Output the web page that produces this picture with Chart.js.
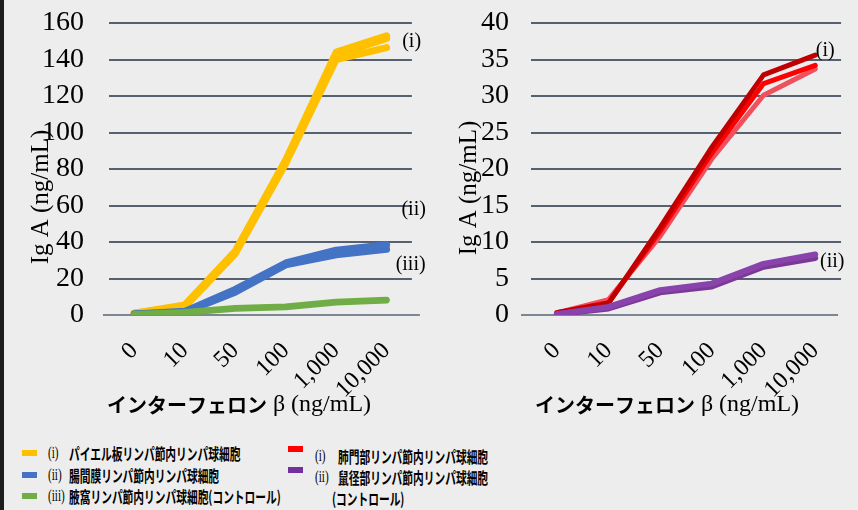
<!DOCTYPE html>
<html>
<head>
<meta charset="utf-8">
<script src="https://cdn.jsdelivr.net/npm/chart.js@4.4.1/dist/chart.umd.min.js"></script>
<style>
  html, body { margin: 0; padding: 0; }
  body { width: 858px; height: 510px; background: #ededed; position: relative; overflow: hidden; }
  #edge { position: absolute; left: 0; top: 0; width: 4px; height: 510px; background: #1c1c1c; }
  .box { position: absolute; top: 0; width: 430px; height: 420px; }
  #leftBox { left: 0; }
  #rightBox { left: 428px; }
  .sw { position: absolute; width: 15px; height: 6px; }
  .tag { position: absolute; font: 16px "Liberation Serif", serif; color: #000; white-space: nowrap;
         line-height: 20px; transform-origin: 0 50%; transform: scaleX(0.7); }
  .jp { position: absolute; font: bold 16px "Noto Sans CJK JP", sans-serif; color: #000; white-space: nowrap;
        line-height: 20px; transform-origin: 0 50%; transform: scaleX(0.67); }
</style>
</head>
<body>
<div id="edge"></div>
<div class="box" id="leftBox"><canvas id="leftChart" width="430" height="420"></canvas></div>
<div class="box" id="rightBox"><canvas id="rightChart" width="430" height="420"></canvas></div>
<div id="legend"></div>
<script>
// categories
const doses = ['0', '10', '50', '100', '1,000', '10,000'];

// left chart: Peyer's patch (i), mesenteric (ii), axillary (iii)
const peyerA = [1, 5.5, 35, 85, 144, 153];
const peyerB = [1, 5, 34.5, 84, 142.5, 151.5];
const peyerC = [0.5, 4.5, 33.5, 83, 140, 146.5];
const mesA = [0.5, 2, 14, 28.5, 35.5, 38.5];
const mesB = [0.5, 1.5, 12.5, 27.5, 33, 36];
const axA = [0.5, 1.6, 3.8, 4.6, 7.2, 8.4];
const axB = [0.3, 1.2, 3.4, 4.2, 6.8, 8];

// right chart: hilar (i), inguinal (ii)
const hilarA = [0.3, 1.6, 12, 23, 32.9, 35.6];
const hilarB = [0.3, 1.7, 11.5, 22.2, 31.7, 34.2];
const hilarC = [0.3, 2.1, 10.8, 21.4, 30.1, 33.7];
const ingA = [0.1, 1.1, 3.4, 4.3, 7, 8.3];
const ingB = [0.1, 0.9, 3.1, 3.9, 6.6, 7.8];

// tick settings
const leftMax = 160, leftStep = 20;
const rightMax = 40, rightStep = 5;

// legend texts
const leftTags = ['(i)', '(ii)', '(iii)'];
const leftNames = ['パイエル板リンパ節内リンパ球細胞', '腸間膜リンパ節内リンパ球細胞', '腋窩リンパ節内リンパ球細胞(コントロール)'];
const rightTags = ['(i)', '(ii)'];
const rightNames = ['肺門部リンパ節内リンパ球細胞', '鼠径部リンパ節内リンパ球細胞'];
const rightNote = '(コントロール)';

const SERIF = '"Liberation Serif", "Times New Roman", serif';
const JP = '"Noto Sans CJK JP", sans-serif';

const yellow = '#ffc000', blue = '#4472c4', green = '#70ad47';
const darkRed = '#c00000', red = '#ff0000', pink = '#f0505e';
const purple = '#7b3996', purple2 = '#8a42ac';

function line(data, color, width) {
  return { data: data, borderColor: color, borderWidth: width, pointRadius: 0, fill: false };
}

const overlay = {
  id: 'overlay',
  beforeDatasetsDraw(chart, args, o) {
    const { ctx, chartArea, scales: { y } } = chart;
    const py = y.getPixelForValue(0);
    ctx.save();
    ctx.strokeStyle = '#7d8792';
    ctx.lineWidth = 2;
    ctx.beginPath();
    ctx.moveTo(chartArea.left - o.zeroLeft, py);
    ctx.lineTo(chartArea.right + o.zeroRight, py);
    ctx.stroke();
    ctx.restore();
  },
  afterDraw(chart, args, o) {
    const { ctx, scales: { x, y } } = chart;
    ctx.save();
    ctx.fillStyle = '#000';
    // y title
    ctx.font = '25px ' + SERIF;
    ctx.textAlign = 'center';
    ctx.textBaseline = 'middle';
    ctx.translate(41, o.yTitleY);
    ctx.rotate(-Math.PI / 2);
    ctx.fillText('Ig A (ng/mL)', 0, 0);
    ctx.setTransform(1, 0, 0, 1, 0, 0);
    // x title (mixed fonts)
    const jp = 'インターフェロン', lat = ' β (ng/mL)';
    ctx.font = 'bold 20px ' + JP;
    const w1 = ctx.measureText(jp).width;
    ctx.font = '24px ' + SERIF;
    const w2 = ctx.measureText(lat).width;
    let sx = 239 - (w1 + w2) / 2;
    ctx.textAlign = 'left';
    ctx.font = 'bold 20px ' + JP;
    ctx.fillText(jp, sx, 405);
    ctx.font = '24px ' + SERIF;
    ctx.fillText(lat, sx + w1, 405);
    // series tags
    ctx.font = '20px ' + SERIF;
    ctx.textAlign = 'center';
    o.tags.forEach(t => {
      ctx.fillText(t.text, x.getPixelForValue(5) + t.dx, y.getPixelForValue(t.v));
    });
    ctx.restore();
  }
};

function makeChart(id, datasets, yMax, yStep, cfg) {
  return new Chart(document.getElementById(id), {
    type: 'line',
    data: { labels: doses, datasets: datasets },
    options: {
      responsive: false,
      animation: false,
      layout: { padding: { top: 23, right: cfg.padRight, left: 0, bottom: 0 } },
      plugins: { legend: { display: false }, tooltip: { enabled: false }, overlay: cfg },
      elements: { line: { tension: 0, borderCapStyle: 'round', borderJoinStyle: 'round' } },
      scales: {
        x: {
          offset: true,
          grid: { display: false, drawTicks: false },
          border: { display: false },
          ticks: { font: { family: SERIF, size: 24 }, color: '#000', minRotation: 45, maxRotation: 45, padding: 22, autoSkip: false },
          afterFit(s) { s.height = 105; }
        },
        y: {
          min: 0, max: yMax,
          grid: { color: c => c.tick.value === 0 ? 'rgba(0,0,0,0)' : '#56606e', lineWidth: 2, drawTicks: false },
          border: { display: false },
          ticks: { stepSize: yStep, autoSkip: false, font: { family: SERIF, size: 28 }, color: '#000', padding: cfg.tickPad },
          afterFit(s) { s.width = cfg.plotLeft; s.paddingTop = 0; s.paddingBottom = 0; }
        }
      }
    },
    plugins: [overlay]
  });
}

makeChart('leftChart', [
  line(axA, green, 6), line(axB, green, 6),
  line(mesA, blue, 7), line(mesB, blue, 7),
  line(peyerA, yellow, 7), line(peyerB, yellow, 7), line(peyerC, yellow, 7)
], leftMax, leftStep, {
  padRight: 12, plotLeft: 109, tickPad: 25, zeroLeft: 6, zeroRight: 8, yTitleY: 197,
  tags: [{ text: '(i)', dx: 25, v: 149.6 }, { text: '(ii)', dx: 27, v: 57.5 }, { text: '(iii)', dx: 24, v: 27.4 }]
});

makeChart('rightChart', [
  line(ingA, purple2, 6), line(ingB, purple, 6),
  line(hilarA, darkRed, 5), line(hilarB, red, 5), line(hilarC, pink, 5)
], rightMax, rightStep, {
  padRight: 5, plotLeft: 103, tickPad: 22, zeroLeft: 10, zeroRight: -3, yTitleY: 188,
  tags: [{ text: '(i)', dx: 10, v: 36.2 }, { text: '(ii)', dx: 17, v: 7.3 }]
});

// shared legend under both charts
const legend = document.getElementById('legend');
function add(cls, text, left, cy, color) {
  const el = document.createElement('div');
  el.className = cls;
  if (cls === 'sw') {
    el.style.left = left + 'px';
    el.style.top = (cy - 3) + 'px';
    el.style.background = color;
  } else {
    el.textContent = text;
    el.style.left = left + 'px';
    el.style.top = (cy - 10) + 'px';
  }
  legend.appendChild(el);
}
const leftColors = [yellow, blue, green];
leftTags.forEach((t, i) => {
  const cy = 453 + i * 21.5;
  add('sw', '', 22, cy, leftColors[i]);
  add('tag', t, 48, cy);
  add('jp', leftNames[i], 69, cy);
});
const rightColors = [red, '#7030a0'];
rightTags.forEach((t, i) => {
  add('sw', '', 288, 449 + i * 21, rightColors[i]);
  add('tag', t, 315, 456 + i * 21);
  add('jp', rightNames[i], 338, 456 + i * 21);
});
add('jp', rightNote, 332, 498);
</script>
</body>
</html>
